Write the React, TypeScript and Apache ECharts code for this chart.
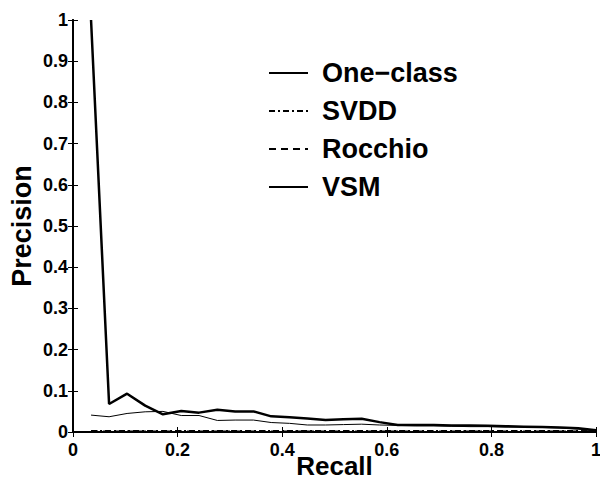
import React, { useEffect, useRef } from "react";
import * as echarts from "echarts";

const recall = [0.0345, 0.069, 0.1034, 0.138, 0.172, 0.207, 0.241, 0.276, 0.31, 0.345, 0.379, 0.414, 0.448, 0.483, 0.517, 0.552, 0.586, 0.621, 0.655, 0.69, 0.724, 0.759, 0.793, 0.828, 0.862, 0.897, 0.931, 0.966, 1.0];
const oneClass = [1.0, 0.068, 0.093, 0.064, 0.043, 0.051, 0.047, 0.054, 0.05, 0.05, 0.038, 0.036, 0.033, 0.029, 0.031, 0.032, 0.024, 0.017, 0.017, 0.017, 0.016, 0.016, 0.015, 0.014, 0.013, 0.012, 0.011, 0.009, 0.004];
const vsm = [0.041, 0.037, 0.045, 0.049, 0.05, 0.04, 0.04, 0.028, 0.029, 0.029, 0.023, 0.021, 0.017, 0.017, 0.018, 0.019, 0.017, 0.016, 0.015, 0.015, 0.014, 0.013, 0.013, 0.012, 0.012, 0.011, 0.01, 0.007, 0.003];
const svdd = [0.003, 0.003, 0.003, 0.003, 0.003, 0.003, 0.003, 0.003, 0.003, 0.003, 0.003, 0.003, 0.003, 0.003, 0.003, 0.003, 0.003, 0.003, 0.003, 0.003, 0.003, 0.003, 0.003, 0.003, 0.003, 0.003, 0.003, 0.003, 0.002];
const rocchio = [0.002, 0.002, 0.002, 0.002, 0.002, 0.002, 0.002, 0.002, 0.002, 0.002, 0.002, 0.002, 0.002, 0.002, 0.002, 0.002, 0.002, 0.002, 0.002, 0.002, 0.002, 0.002, 0.002, 0.002, 0.002, 0.002, 0.002, 0.002, 0.002];
const seriesNames = ["One\u2212class", "SVDD", "Rocchio", "VSM"];
const xTicks = ["0", "0.2", "0.4", "0.6", "0.8", "1"];

const pairs = (ys: number[]) => recall.map((x, i) => [x, ys[i]]);

const fmt = (v: number) => {
  const r = Math.round(v * 10) / 10;
  if (r === 0) return "0";
  if (r === 1) return "1";
  return String(r);
};

export default function App() {
  const ref = useRef<HTMLDivElement>(null);
  useEffect(() => {
    if (!ref.current) return;
    const chart = echarts.init(ref.current, undefined, { renderer: "svg" });
    const font = "'Liberation Sans', Arial, Helvetica, sans-serif";
    const axisLine = { show: true, lineStyle: { color: "#000", width: 2 } };
    const tick = { show: true, inside: true, length: 5, lineStyle: { color: "#000", width: 1 } };
    chart.setOption({
      animation: false,
      backgroundColor: "#fff",
      grid: { left: 73, right: 4, top: 20, bottom: 49, containLabel: false, outerBoundsMode: "none" },
      legend: {
        orient: "vertical",
        left: 263,
        top: 54,
        itemWidth: 39,
        itemHeight: 14,
        itemGap: 10,
        itemStyle: { opacity: 0 },
        textStyle: { fontFamily: font, fontWeight: "bold", fontSize: 27, lineHeight: 28, color: "#000", padding: [0, 0, 0, 9] },
        data: seriesNames,
      },
      xAxis: [
        {
          type: "value", min: 0, max: 1, interval: 0.2,
          name: "Recall", nameLocation: "middle", nameGap: 21, nameMoveOverlap: false,
          nameTextStyle: { fontFamily: font, fontWeight: "bold", fontSize: 26, lineHeight: 26, color: "#000" },
          axisLine, axisTick: tick, splitLine: { show: false },
          axisLabel: { fontFamily: font, fontWeight: "bold", fontSize: 18, color: "#000", margin: 9, formatter: (v: number) => xTicks[Math.round(v * 5)] },
        },
        {
          type: "value", min: 0, max: 1, interval: 0.2, position: "top",
          axisLine, axisTick: tick, splitLine: { show: false }, axisLabel: { show: false },
        },
      ],
      yAxis: [
        {
          type: "value", min: 0, max: 1, interval: 0.1,
          name: "Precision", nameLocation: "middle", nameGap: 38, nameMoveOverlap: false,
          nameTextStyle: { fontFamily: font, fontWeight: "bold", fontSize: 27, lineHeight: 27, color: "#000" },
          axisLine, axisTick: tick, splitLine: { show: false },
          axisLabel: { fontFamily: font, fontWeight: "bold", fontSize: 18, color: "#000", margin: 5, formatter: fmt },
        },
        {
          type: "value", min: 0, max: 1, interval: 0.1, position: "right",
          axisLine, axisTick: tick, splitLine: { show: false }, axisLabel: { show: false },
        },
      ],
      series: [
        { name: seriesNames[0], type: "line", symbol: "none", data: pairs(oneClass), lineStyle: { color: "#000", width: 2.5 }, itemStyle: { color: "#000" } },
        { name: seriesNames[1], type: "line", symbol: "none", data: pairs(svdd), lineStyle: { color: "#000", width: 1.5, type: [6, 3, 2, 3] }, itemStyle: { color: "#000" } },
        { name: seriesNames[2], type: "line", symbol: "none", data: pairs(rocchio), lineStyle: { color: "#000", width: 1.5, type: [7, 5] }, itemStyle: { color: "#000" } },
        { name: seriesNames[3], type: "line", symbol: "none", data: pairs(vsm), lineStyle: { color: "#000", width: 1 }, itemStyle: { color: "#000" } },
      ],
    });
    return () => chart.dispose();
  }, []);
  return <div ref={ref} style={{ width: 600, height: 481, position: "absolute", left: 0, top: 0 }} />;
}
